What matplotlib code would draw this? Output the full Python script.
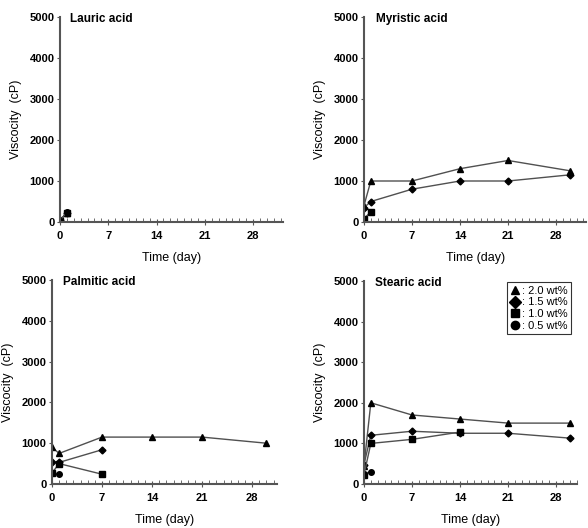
import matplotlib
matplotlib.use("Agg")
import matplotlib.pyplot as plt
from matplotlib.ticker import MultipleLocator
from matplotlib.lines import Line2D

plt.rcParams['font.family'] = ['Liberation Sans', 'DejaVu Sans']

acids = ["Lauric acid", "Myristic acid", "Palmitic acid", "Stearic acid"]
conc_labels = [": 2.0 wt%", ": 1.5 wt%", ": 1.0 wt%", ": 0.5 wt%"]
markers = ["^", "D", "s", "o"]

# days and viscosity (cP) per acid, per concentration (2.0, 1.5, 1.0, 0.5 wt%)
lauric_days = [[0, 1], [0, 1], [0, 1], [0, 1]]
lauric_vals = [[40, 230], [40, 230], [30, 220], [30, 250]]

myristic_days = [[0, 1, 7, 14, 21, 30], [0, 1, 7, 14, 21, 30], [0, 1], [0]]
myristic_vals = [[400, 1000, 1000, 1300, 1500, 1250],
                 [350, 500, 800, 1000, 1000, 1150],
                 [80, 250], [80]]

palmitic_days = [[0, 1, 7, 14, 21, 30], [0, 1, 7], [0, 1, 7], [0, 1]]
palmitic_vals = [[900, 750, 1150, 1150, 1150, 1000],
                 [530, 530, 840],
                 [270, 500, 240],
                 [270, 250]]

stearic_days = [[0, 1, 7, 14, 21, 30], [0, 1, 7, 14, 21, 30], [0, 1, 7, 14], [0, 1]]
stearic_vals = [[450, 2000, 1700, 1600, 1500, 1500],
                [480, 1200, 1300, 1250, 1250, 1130],
                [230, 1000, 1100, 1280],
                [250, 300]]

all_days = [lauric_days, myristic_days, palmitic_days, stearic_days]
all_vals = [lauric_vals, myristic_vals, palmitic_vals, stearic_vals]

fig = plt.figure(figsize=(5.88, 5.28), dpi=100)
positions = [
    [0.102, 0.5795, 0.379, 0.3885],
    [0.619, 0.5795, 0.378, 0.3885],
    [0.0884, 0.0833, 0.383, 0.3864],
    [0.619, 0.0833, 0.362, 0.3845],
]
xmax = [32.3, 32.4, 31.5, 31.0]
title_x = [0.045, 0.054, 0.05, 0.054]

axc = "#555555"
for i, ax_pos in enumerate(positions):
    ax = fig.add_axes(ax_pos)
    for d, v, m in zip(all_days[i], all_vals[i], markers):
        ax.plot(d, v, color="#505050", lw=1.0, marker=m, ms=4 if m != "D" else 3.5,
                mfc="black", mec="black")
    ax.set_xlim(0, xmax[i])
    ax.set_ylim(0, 5000)
    ax.set_xticks([0, 7, 14, 21, 28])
    ax.xaxis.set_minor_locator(MultipleLocator(1))
    ax.set_yticks([0, 1000, 2000, 3000, 4000, 5000])
    for s in ["top", "right"]:
        ax.spines[s].set_visible(False)
    for s in ["left", "bottom"]:
        ax.spines[s].set_color(axc)
        ax.spines[s].set_linewidth(1.5)
    ax.tick_params(axis="x", which="both", direction="in", length=3, color=axc,
                   labelsize=8, pad=4)
    ax.tick_params(axis="x", which="major", direction="inout", length=5)
    ax.tick_params(axis="y", direction="out", length=2, color=axc, labelsize=8, pad=2)
    for lab in ax.get_xticklabels() + ax.get_yticklabels():
        lab.set_fontweight("bold")
    ax.set_xlabel("Time (day)", fontsize=9, labelpad=8)
    ax.set_ylabel("Viscocity  (cP)", fontsize=9, labelpad=5)
    ax.text(title_x[i], 0.99, acids[i], transform=ax.transAxes,
            fontsize=8.5, fontweight="bold", va="center", ha="left")
    ax.patch.set_alpha(0)
    if i == 3:
        handles = [Line2D([], [], ls="none", marker=m, color="black", ms=6)
                   for m in markers]
        leg = ax.legend(handles, conc_labels, loc="upper right", fontsize=8,
                        frameon=True, fancybox=False, edgecolor="black",
                        handlelength=0.8, handletextpad=0.3, borderpad=0.3,
                        labelspacing=0.15, bbox_to_anchor=(1.0, 1.02))
        leg.get_frame().set_linewidth(0.8)

fig.savefig("out.png", dpi=100)
